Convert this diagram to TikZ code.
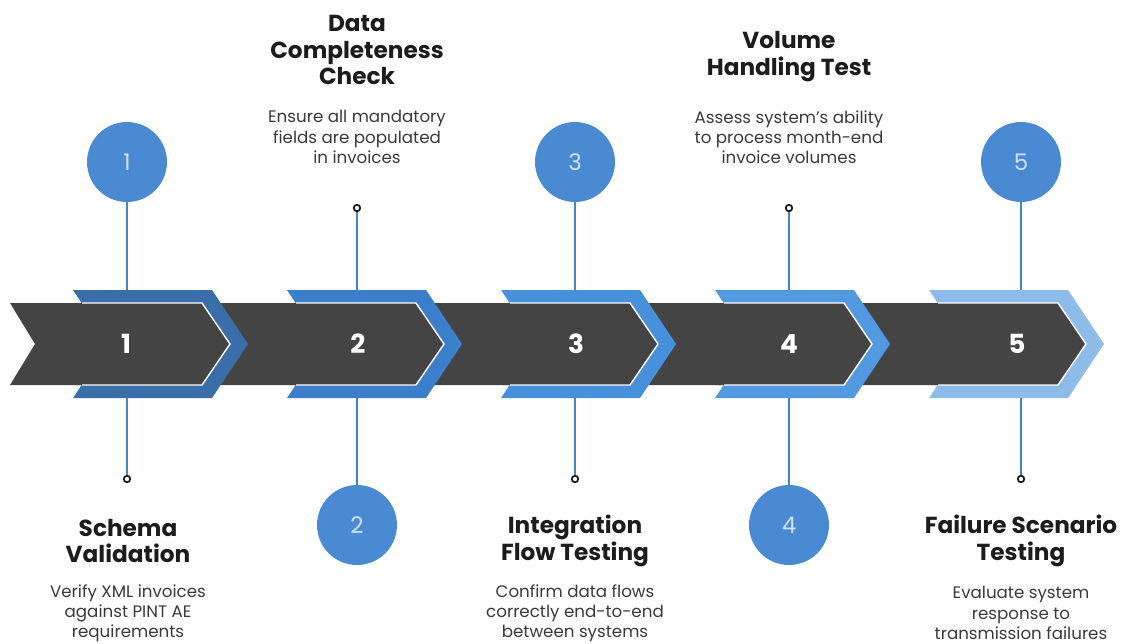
\documentclass[tikz,border=0pt]{standalone}
\usepackage{fontspec}
\setmainfont{Poppins}
\usetikzlibrary{calc}

\definecolor{band}{HTML}{444444}
\definecolor{chevA}{HTML}{3A6EA9}
\definecolor{chevB}{HTML}{3B7FCB}
\definecolor{chevC}{HTML}{4690DC}
\definecolor{chevD}{HTML}{5399E0}
\definecolor{chevE}{HTML}{8DBBEA}
\definecolor{dotblue}{HTML}{4A8AD2}
\definecolor{stem}{HTML}{4684C4}
\definecolor{ink}{HTML}{1C1C1C}
\definecolor{greytext}{HTML}{3A3A3A}

\tikzset{
 bubble/.style={circle, fill=dotblue, minimum size=1.6cm, inner sep=0, text=white!75!dotblue, font=\fontsize{13}{13}\selectfont},
 pin/.style={circle, draw=ink, fill=white, line width=1pt, minimum size=0.13cm, inner sep=0},
 stemline/.style={stem, line width=1.1pt},
 heading/.style={align=center, text=ink, font=\fontsize{13.2}{15.3}\selectfont\bfseries},
 blurb/.style={align=center, text=greytext, font=\fontsize{9.5}{11.5}\selectfont},
 stepno/.style={text=white, font=\fontsize{15}{15}\selectfont\bfseries},
}

\begin{document}
\begin{tikzpicture}[x=.02cm, y=-.02cm]
\useasboundingbox (0,0) rectangle (1129,643);
% bubbles above, pins below
\foreach \x/\n in {127/1,575/3,1021/5} {
 \coordinate (s\n) at (\x,344);
 \node[bubble] (c\n) at (\x,162) {\n};
 \node[pin] (p\n) at (\x,479) {};
 \draw[stemline] (c\n) -- (s\n) -- (p\n);
}
% pins above, bubbles below
\foreach \x/\n in {357/2,789/4} {
 \coordinate (s\n) at (\x,344);
 \node[bubble] (c\n) at (\x,525) {\n};
 \node[pin] (p\n) at (\x,208) {};
 \draw[stemline] (p\n) -- (s\n) -- (c\n);
}
% dark band
\fill[band] (10,303) -- (1058,303) -- (1086,344) -- (1058,385) -- (10,385) -- (35,344) -- cycle;
% chevrons and arrow heads
\foreach \n/\c in {1/chevA,2/chevB,3/chevC,4/chevD,5/chevE} {
 \pgfmathsetmacro\o{(\n-1)*214}
 \fill[\c] (73+\o,290) -- (212+\o,290) -- (248+\o,344) -- (212+\o,398) -- (73+\o,398) -- (109+\o,344) -- cycle;
 \fill[band] (75+\o,303) -- (202+\o,303) -- (230+\o,344) -- (202+\o,385) -- (75+\o,385) -- cycle;
 \draw[white, line width=.8pt] (82+\o,303) -- (202+\o,303) -- (230+\o,344) -- (202+\o,385) -- (82+\o,385);
}
\foreach \x/\n in {126/1,358/2,576/3,789/4,1017/5}
 \node[stepno] (n\n) at (\x,344) {\n};

% texts
\node[heading] (h2) at (357,50) {Data\\Completeness\\Check};
\node[blurb] (d2) at (357,137) {Ensure all mandatory\\fields are populated\\in invoices};
\node[heading] (h4) at (789,57) {Volume\\Handling Test};
\node[blurb] (d4) at (789,137) {Assess system's ability\\to process month-end\\invoice volumes};
\node[heading] (h1) at (128,541) {Schema\\Validation};
\node[blurb] (d1) at (128,613) {Verify XML invoices\\against PINT AE\\requirements};
\node[heading] (h3) at (575,541) {Integration\\Flow Testing};
\node[blurb] (d3) at (575,613) {Confirm data flows\\correctly end-to-end\\between systems};
\node[heading] (h5) at (1021,541) {Failure Scenario\\Testing};
\node[blurb] (d5) at (1021,613) {Evaluate system\\response to\\transmission failures};
\end{tikzpicture}
\end{document}
